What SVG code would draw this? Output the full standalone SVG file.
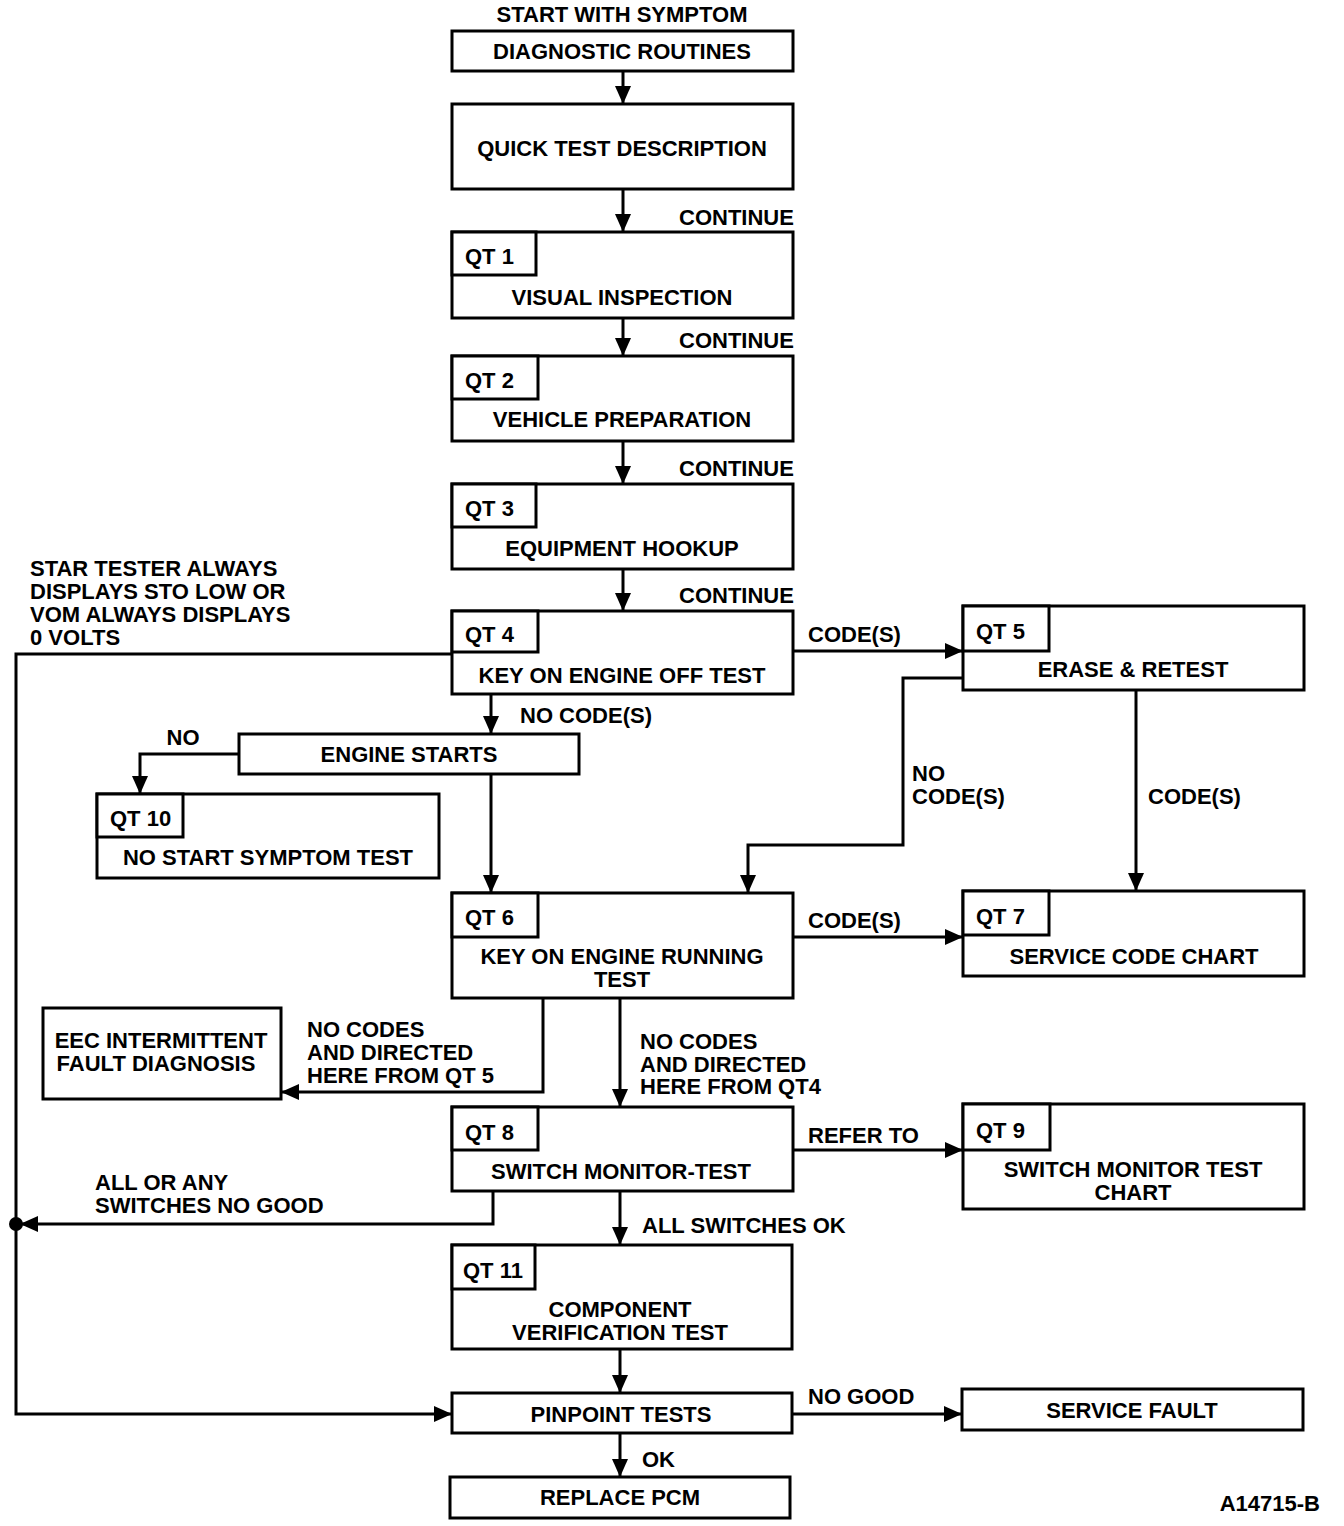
<svg xmlns="http://www.w3.org/2000/svg" width="1344" height="1526" viewBox="0 0 1344 1526">
<defs>
<marker id="arr" markerUnits="userSpaceOnUse" markerWidth="20" markerHeight="18" refX="18" refY="8" orient="auto">
<path d="M0,0 L18,8 L0,16 z" fill="#000"/>
</marker>
<style>
rect{fill:#fff;stroke:#000;stroke-width:3}
text{font-family:"Liberation Sans",Arial,sans-serif;font-weight:bold;font-size:22px;fill:#000}
.c{text-anchor:middle}
.cn path{fill:none;stroke:#000;stroke-width:3}
.cn .a{marker-end:url(#arr)}
</style>
</defs>
<rect x="0" y="0" width="1344" height="1526" style="stroke:none"/>

<g class="cn" id="connectors">
<path class="a" d="M623,71 V104"/>
<path class="a" d="M623,189 V232"/>
<path class="a" d="M623,318 V356"/>
<path class="a" d="M623,441 V484"/>
<path class="a" d="M623,569 V611"/>
<path class="a" d="M793,651 H963"/>
<path class="a" d="M452,654 H16 V1414 H452"/>
<path class="a" d="M491,694 V734"/>
<path class="a" d="M239,754 H140 V794"/>
<path class="a" d="M491,774 V893"/>
<path class="a" d="M963,678 H903 V845 H748 V893"/>
<path class="a" d="M1136,690 V891"/>
<path class="a" d="M793,937 H963"/>
<path class="a" d="M543,998 V1092 H281"/>
<path class="a" d="M620,998 V1107"/>
<path class="a" d="M793,1150 H963"/>
<path class="a" d="M493,1191 V1224 H20"/>
<path class="a" d="M620,1191 V1245"/>
<path class="a" d="M620,1349 V1393"/>
<path class="a" d="M792,1414 H962"/>
<path class="a" d="M620,1433 V1477"/>
<circle cx="16" cy="1224" r="7" fill="#000"/>
</g>

<g id="labels">
<text x="622" y="22" class="c">START WITH SYMPTOM</text>
<text x="679" y="225">CONTINUE</text>
<text x="679" y="348">CONTINUE</text>
<text x="679" y="476">CONTINUE</text>
<text x="679" y="603">CONTINUE</text>
<text x="30" y="576">STAR TESTER ALWAYS</text>
<text x="30" y="599">DISPLAYS STO LOW OR</text>
<text x="30" y="622">VOM ALWAYS DISPLAYS</text>
<text x="30" y="645">0 VOLTS</text>
<text x="808" y="642">CODE(S)</text>
<text x="520" y="723">NO CODE(S)</text>
<text x="183" y="745" class="c">NO</text>
<text x="912" y="781">NO</text>
<text x="912" y="804">CODE(S)</text>
<text x="1148" y="804">CODE(S)</text>
<text x="808" y="928">CODE(S)</text>
<text x="307" y="1037">NO CODES</text>
<text x="307" y="1060">AND DIRECTED</text>
<text x="307" y="1083">HERE FROM QT 5</text>
<text x="640" y="1049">NO CODES</text>
<text x="640" y="1072">AND DIRECTED</text>
<text x="640" y="1094">HERE FROM QT4</text>
<text x="808" y="1143">REFER TO</text>
<text x="95" y="1190">ALL OR ANY</text>
<text x="95" y="1213">SWITCHES NO GOOD</text>
<text x="642" y="1233">ALL SWITCHES OK</text>
<text x="808" y="1404">NO GOOD</text>
<text x="642" y="1467">OK</text>
<text x="1320" y="1511" style="text-anchor:end">A14715-B</text>
</g>

<g id="diag">
<rect x="452" y="31" width="341" height="40"/>
<text x="622" y="59" class="c">DIAGNOSTIC ROUTINES</text>
</g>
<g id="qtdesc">
<rect x="452" y="104" width="341" height="85"/>
<text x="622" y="156" class="c">QUICK TEST DESCRIPTION</text>
</g>
<g id="qt1">
<rect x="452" y="232" width="341" height="86"/>
<rect x="452" y="232" width="84" height="43"/>
<text x="465" y="264">QT 1</text>
<text x="622" y="305" class="c">VISUAL INSPECTION</text>
</g>
<g id="qt2">
<rect x="452" y="356" width="341" height="85"/>
<rect x="452" y="356" width="86" height="43"/>
<text x="465" y="388">QT 2</text>
<text x="622" y="427" class="c">VEHICLE PREPARATION</text>
</g>
<g id="qt3">
<rect x="452" y="484" width="341" height="85"/>
<rect x="452" y="484" width="84" height="43"/>
<text x="465" y="516">QT 3</text>
<text x="622" y="556" class="c">EQUIPMENT HOOKUP</text>
</g>
<g id="qt4">
<rect x="452" y="611" width="341" height="83"/>
<rect x="452" y="611" width="86" height="41"/>
<text x="465" y="642">QT 4</text>
<text x="622" y="683" class="c">KEY ON ENGINE OFF TEST</text>
</g>
<g id="qt5">
<rect x="963" y="606" width="341" height="84"/>
<rect x="963" y="606" width="86" height="45"/>
<text x="976" y="639">QT 5</text>
<text x="1133" y="677" class="c">ERASE &amp; RETEST</text>
</g>
<g id="engstarts">
<rect x="239" y="734" width="340" height="40"/>
<text x="409" y="762" class="c">ENGINE STARTS</text>
</g>
<g id="qt10">
<rect x="97" y="794" width="342" height="84"/>
<rect x="97" y="794" width="86" height="43"/>
<text x="110" y="826">QT 10</text>
<text x="268" y="865" class="c">NO START SYMPTOM TEST</text>
</g>
<g id="qt6">
<rect x="452" y="893" width="341" height="105"/>
<rect x="452" y="893" width="86" height="44"/>
<text x="465" y="925">QT 6</text>
<text x="622" y="964" class="c">KEY ON ENGINE RUNNING</text>
<text x="622" y="987" class="c">TEST</text>
</g>
<g id="qt7">
<rect x="963" y="891" width="341" height="85"/>
<rect x="963" y="891" width="86" height="44"/>
<text x="976" y="924">QT 7</text>
<text x="1134" y="964" class="c">SERVICE CODE CHART</text>
</g>
<g id="eec">
<rect x="43" y="1008" width="238" height="91"/>
<text x="161" y="1048" class="c">EEC INTERMITTENT</text>
<text x="156" y="1071" class="c">FAULT DIAGNOSIS</text>
</g>
<g id="qt8">
<rect x="452" y="1107" width="341" height="84"/>
<rect x="452" y="1107" width="86" height="43"/>
<text x="465" y="1140">QT 8</text>
<text x="621" y="1179" class="c">SWITCH MONITOR-TEST</text>
</g>
<g id="qt9">
<rect x="963" y="1104" width="341" height="105"/>
<rect x="963" y="1104" width="87" height="46"/>
<text x="976" y="1138">QT 9</text>
<text x="1133" y="1177" class="c">SWITCH MONITOR TEST</text>
<text x="1133" y="1200" class="c">CHART</text>
</g>
<g id="qt11">
<rect x="452" y="1245" width="340" height="104"/>
<rect x="452" y="1245" width="83" height="44"/>
<text x="463" y="1278">QT 11</text>
<text x="620" y="1317" class="c">COMPONENT</text>
<text x="620" y="1340" class="c">VERIFICATION TEST</text>
</g>
<g id="pinpoint">
<rect x="452" y="1393" width="340" height="40"/>
<text x="621" y="1422" class="c">PINPOINT TESTS</text>
</g>
<g id="servicefault">
<rect x="962" y="1389" width="341" height="41"/>
<text x="1132" y="1418" class="c">SERVICE FAULT</text>
</g>
<g id="replacepcm">
<rect x="450" y="1477" width="340" height="41"/>
<text x="620" y="1505" class="c">REPLACE PCM</text>
</g>
</svg>
